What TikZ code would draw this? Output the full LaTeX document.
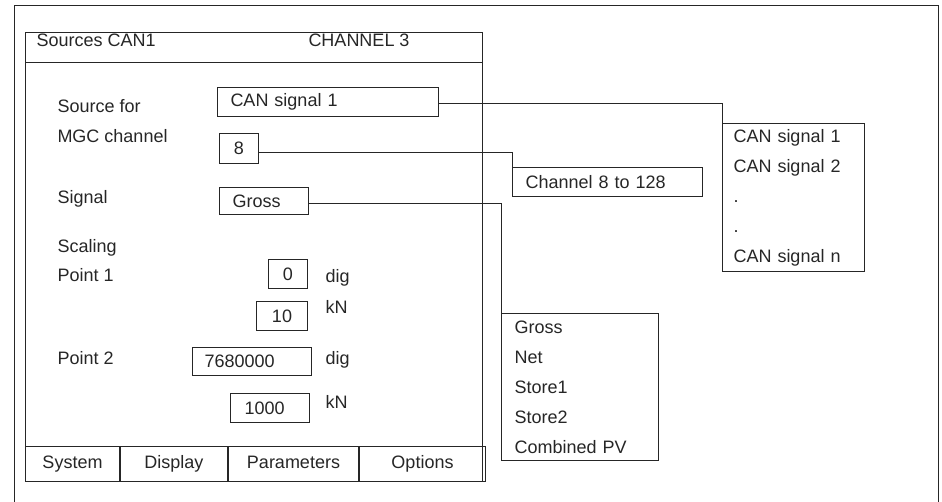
\documentclass[tikz,border=0pt]{standalone}
\usepackage{fontspec}
\setmainfont{Liberation Sans}
\usetikzlibrary{positioning}

\begin{document}
\begin{tikzpicture}[x=1pt, y=-1pt, line width=1pt, color=black!85,
    every node/.style={font=\fontsize{18}{30}\selectfont},
    lbl/.style={anchor=base west, inner sep=0pt},
    field/.style={draw, anchor=north west, inner ysep=0pt, inner xsep=13pt},
    tab/.style={draw, anchor=north west, minimum height=35pt, inner sep=0pt, text height=13pt, text depth=4pt},
    list/.style={draw, anchor=north west, align=left, inner xsep=12pt}]
	\useasboundingbox (0,0) rectangle (942,502);
	% Outer frame
	\draw (14,502) |- (938,6) -- (938,502);
	% The screen and its title
	\node[draw, anchor=north west, minimum width=457pt, minimum height=449pt, inner sep=0pt] (screen) at (25,32) {};
	\node[draw, anchor=north west, minimum width=457pt, minimum height=30pt, inner sep=0pt] (titlebar) at (25,32) {};
	\node[lbl] (title)   at (36,47)  {Sources CAN1};
	\node[lbl] (channel) at (308,47) {CHANNEL 3};
	% Labels on the left
	\node[lbl] (lsource)  at (57,113) {Source for};
	\node[lbl] (lmgc)     at (57,143) {MGC channel};
	\node[lbl] (lsignal)  at (57,204) {Signal};
	\node[lbl] (lscaling) at (57,253) {Scaling};
	\node[lbl] (lpoint1)  at (57,282) {Point 1};
	\node[lbl] (lpoint2)  at (57,365) {Point 2};
	% Input fields
	\node[field, minimum height=29pt, text width=195pt, align=left] (srcfield)  at (217,87)  {CAN signal 1};
	\node[field, minimum height=30pt, minimum width=39pt]           (chanfield) at (219,133) {8};
	\node[field, minimum height=27pt, text width=63pt, align=left]  (sigfield)  at (219,187) {Gross};
	\node[field, minimum height=29pt, minimum width=39pt]           (dig1)      at (268,259) {0};
	\node[field, minimum height=29pt, minimum width=51pt]           (kn1)       at (256,301) {10};
	\node[field, minimum height=28pt, text width=95pt, align=left, inner xsep=12pt] (dig2) at (192,347) {7680000};
	\node[field, minimum height=29pt, text width=51pt, align=left, inner xsep=14pt] (kn2)  at (230,393) {1000};
	% Units
	\node[lbl] (udig1) at (325,283) {dig};
	\node[lbl] (ukn1)  at (325,314) {kN};
	\node[lbl] (udig2) at (325,365) {dig};
	\node[lbl] (ukn2)  at (325,408) {kN};
	% Menu bar
	\node[tab, minimum width=94pt]                        (tsystem) at (25,446) {System};
	\node[tab, minimum width=107pt, right=0pt of tsystem] (tdisplay) {Display};
	\node[tab, minimum width=130pt, right=0pt of tdisplay] (tparams) {Parameters};
	\node[tab, minimum width=126pt, right=0pt of tparams]  (toptions) {Options};
	% Selection lists
	\node[list, text width=120pt, minimum height=148pt, inner xsep=11pt] (canlist) at (722,123)
		{CAN signal 1\\CAN signal 2\\.\\.\\CAN signal n};
	\node[field, minimum height=29pt, text width=164pt, align=left] (chanrange) at (512,167) {Channel 8 to 128};
	\node[list, text width=131pt, minimum height=147pt, inner xsep=13pt] (grosslist) at (501,313)
		{Gross\\Net\\Store1\\Store2\\Combined PV};
	% Connect the fields with their lists
	\draw ([yshift=-1.5pt]srcfield.east) -| (canlist.north west);
	\draw ([yshift=-4pt]chanfield.east) -| (chanrange.north west);
	\draw ([yshift=-2.5pt]sigfield.east) -| (grosslist.north west);
\end{tikzpicture}
\end{document}
